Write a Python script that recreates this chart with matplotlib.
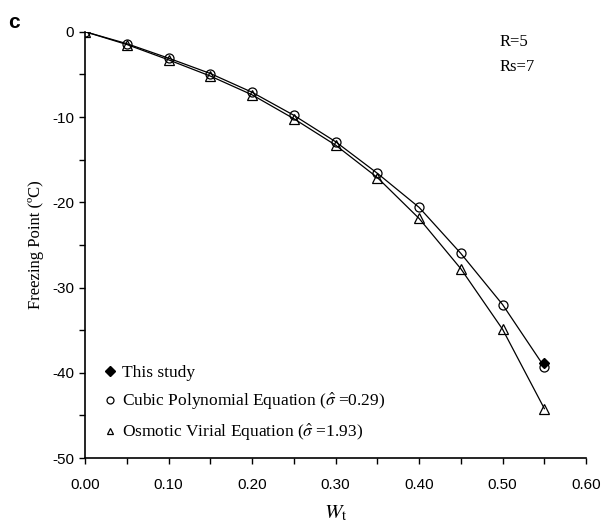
import matplotlib
matplotlib.use("Agg")
import matplotlib.pyplot as plt
from matplotlib.lines import Line2D

plt.rcParams['mathtext.fontset'] = 'stix'

x = [0.00, 0.05, 0.10, 0.15, 0.20, 0.25, 0.30, 0.35, 0.40, 0.45, 0.50, 0.55]
cubic = [0.0, -1.4, -3.1, -4.9, -7.1, -9.8, -12.9, -16.6, -20.6, -26.0, -32.0, -39.3]
osmotic = [0.0, -1.5, -3.3, -5.2, -7.4, -10.2, -13.3, -17.1, -21.9, -27.8, -34.9, -44.2]
study_x = [0.55]
study_y = [-38.9]

xticks = [0.00, 0.10, 0.20, 0.30, 0.40, 0.50, 0.60]
xticklabels = ["0.00", "0.10", "0.20", "0.30", "0.40", "0.50", "0.60"]
yticks = [0, -10, -20, -30, -40, -50]
yticklabels = ["0", "-10", "-20", "-30", "-40", "-50"]

fig = plt.figure(figsize=(6.08, 5.29), dpi=100)
ax = fig.add_axes([0.140, 0.134, 0.824, 0.806])

ax.plot(x, cubic, color='black', lw=0.9, zorder=2)
ax.plot(x, osmotic, color='black', lw=0.9, zorder=2)
ax.plot(study_x, study_y, linestyle='none', marker='D', ms=5, color='black', zorder=3)
ax.plot(x, cubic, linestyle='none', marker='o', ms=6.5, mfc='none', mec='black', mew=0.9, zorder=4)
ax.plot(x, osmotic, linestyle='none', marker='^', ms=7.5, mfc='none', mec='black', mew=0.9, zorder=4)

ax.set_xlim(0, 0.6)
ax.set_ylim(-50, 0)
ax.set_xticks(xticks)
ax.set_xticklabels(xticklabels, fontfamily='Liberation Sans', fontsize=11)
ax.set_xticks([0.05, 0.15, 0.25, 0.35, 0.45, 0.55], minor=True)
ax.set_yticks(yticks)
ax.set_yticklabels(yticklabels, fontfamily='Liberation Sans', fontsize=11)
ax.set_yticks([-5, -15, -25, -35, -45], minor=True)
ax.tick_params(which='both', direction='out', length=4, width=1, color='black')
ax.tick_params(axis='x', pad=10)
ax.tick_params(axis='y', pad=4)
for s in ['top', 'right']:
    ax.spines[s].set_visible(False)
for s in ['left', 'bottom']:
    ax.spines[s].set_linewidth(1.2)

ax.set_xlabel(r"$W_{\mathrm{t}}$", fontsize=15, labelpad=8)
ax.set_ylabel("Freezing Point (ºC)", fontfamily='Liberation Serif', fontsize=12, labelpad=6)

handles = [
    Line2D([], [], linestyle='none', marker='D', ms=5, color='black'),
    Line2D([], [], linestyle='none', marker='o', ms=5, mfc='none', mec='black', mew=0.9),
    Line2D([], [], linestyle='none', marker='^', ms=5, mfc='none', mec='black', mew=0.9),
]
labels = ["This study",
          r"Cubic Polynomial Equation ($\hat{\sigma}$ =0.29)",
          r"Osmotic Virial Equation ($\hat{\sigma}$ =1.93)"]
leg = ax.legend(handles, labels, loc='lower left', bbox_to_anchor=(0.025, 0.02),
                frameon=False, handlelength=0.6, handletextpad=0.4, labelspacing=0.55,
                borderaxespad=0, prop={'family': 'Liberation Serif', 'size': 12.5})

fig.text(0.822, 0.92, "R=5", fontfamily='Liberation Serif', fontsize=12, va='center', ha='left')
fig.text(0.822, 0.873, "Rs=7", fontfamily='Liberation Serif', fontsize=12, va='center', ha='left')
fig.text(0.014, 0.958, "c", fontfamily='Liberation Sans', fontweight='bold', fontsize=15, va='center', ha='left')

fig.savefig("out.png", dpi=100)
